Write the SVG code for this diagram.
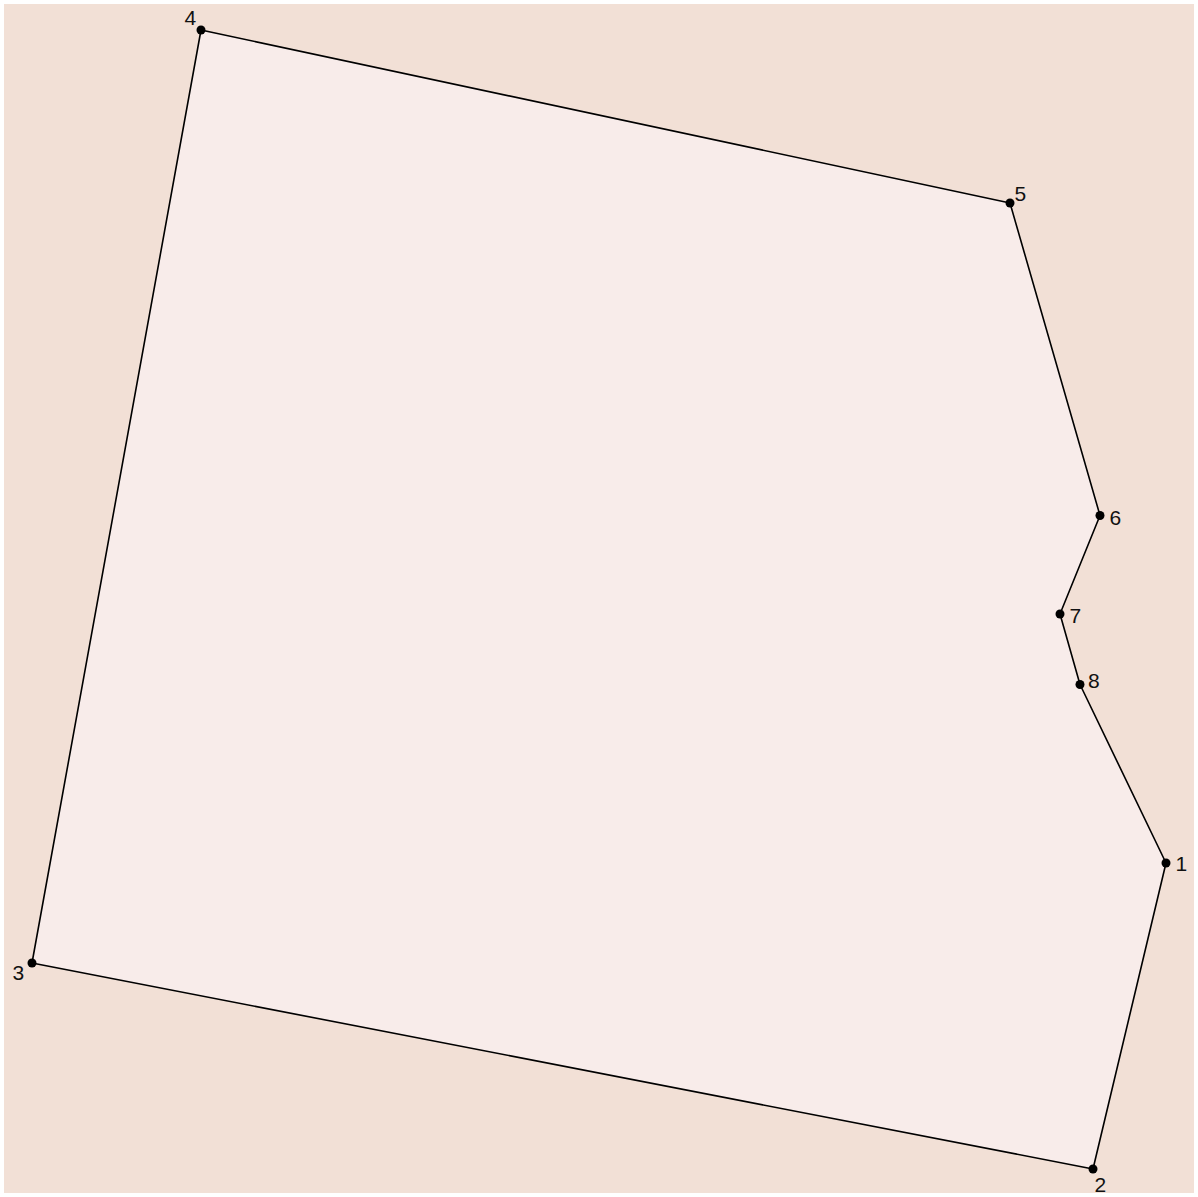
<svg xmlns="http://www.w3.org/2000/svg" width="1198" height="1197" viewBox="0 0 1198 1197">
<style>
.bg{fill:#f2e0d6}
.poly{fill:#f8ecea;stroke:#000;stroke-width:1.6;stroke-linejoin:round}
.pt{fill:#000}
.lbl{font-family:"Liberation Sans",Arial,sans-serif;fill:#111}
</style>
<rect width="1198" height="1197" fill="#fff"/>
<rect class="bg" x="4" y="4" width="1190" height="1189"/>
<g id="connectors">
<polygon class="poly" points="1166,863 1093,1169 32,963 201,30 1010,203 1100,515.5 1060,614 1080,684.5"/>
</g>
<g font-size="21">
<g id="p1"><circle class="pt" cx="1166" cy="863" r="4.5"/><text class="lbl" font-size="21" x="1175.5" y="870.5">1</text></g>
<g id="p2"><circle class="pt" cx="1093" cy="1169" r="4.5"/><text class="lbl" font-size="21" x="1094.5" y="1191.5">2</text></g>
<g id="p3"><circle class="pt" cx="32" cy="963" r="4.5"/><text class="lbl" font-size="21" x="12.5" y="980">3</text></g>
<g id="p4"><circle class="pt" cx="201" cy="30" r="4.5"/><text class="lbl" font-size="21" x="184.5" y="24.5">4</text></g>
<g id="p5"><circle class="pt" cx="1010" cy="203" r="4.5"/><text class="lbl" font-size="21" x="1014.5" y="200.5">5</text></g>
<g id="p6"><circle class="pt" cx="1100" cy="515.5" r="4.5"/><text class="lbl" font-size="21" x="1109.5" y="524.5">6</text></g>
<g id="p7"><circle class="pt" cx="1060" cy="614" r="4.5"/><text class="lbl" font-size="21" x="1069.5" y="623">7</text></g>
<g id="p8"><circle class="pt" cx="1080" cy="684.5" r="4.5"/><text class="lbl" font-size="21" x="1088" y="687.5">8</text></g>
</g>
</svg>
